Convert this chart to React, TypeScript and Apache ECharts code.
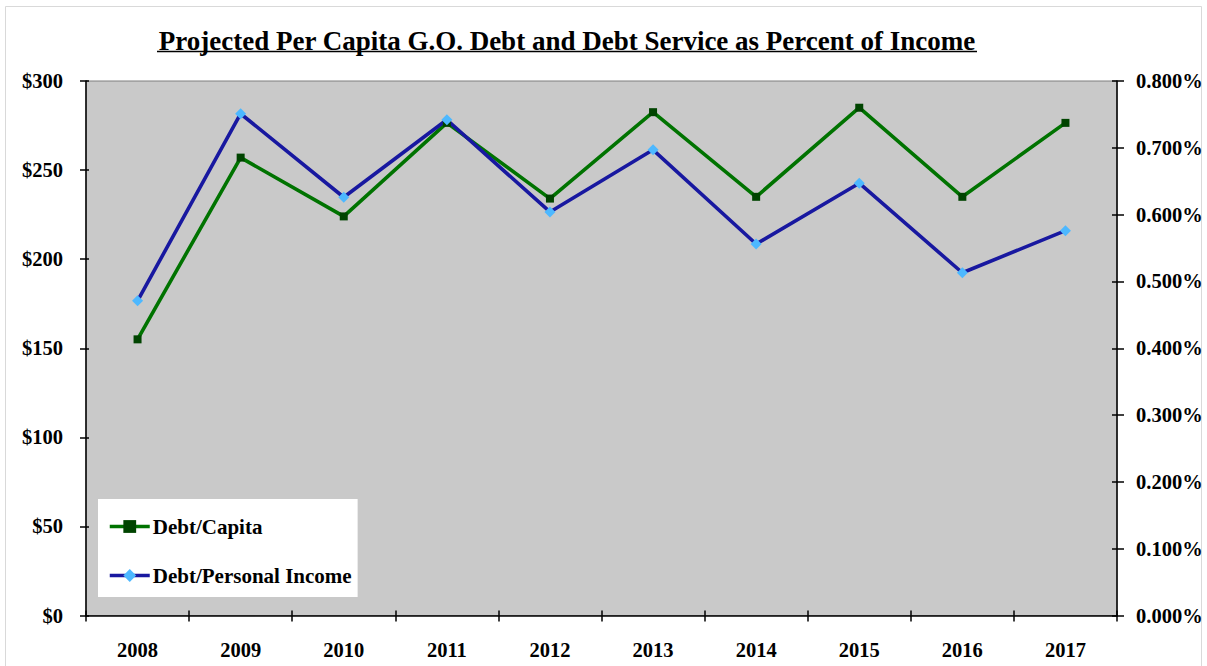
import React, { useEffect, useRef } from 'react';
import * as echarts from 'echarts';

const years = ['2008', '2009', '2010', '2011', '2012', '2013', '2014', '2015', '2016', '2017'];
const debtPerCapita = [155, 257, 224, 276.5, 234, 282.5, 235, 285, 235, 276.5];
const debtPctIncome = [0.471, 0.751, 0.626, 0.742, 0.604, 0.697, 0.556, 0.647, 0.513, 0.576];
const titleText = 'Projected Per Capita G.O. Debt and Debt Service as Percent of Income';
const seriesNames = ['Debt/Capita', 'Debt/Personal Income'];

const FONT = '"Liberation Serif", "Times New Roman", serif';

export default function App() {
  const ref = useRef<HTMLDivElement>(null);
  useEffect(() => {
    if (!ref.current) return;
    const chart = echarts.init(ref.current, null, { renderer: 'svg' });
    const labelStyle = { color: '#000', fontFamily: FONT, fontWeight: 'bold' as const, fontSize: 20.5 };
    const yTickInside = { show: true, inside: true, length: 3, lineStyle: { color: '#000', width: 1.5 } };
    chart.setOption({
      animation: false,
      backgroundColor: '#fff',
      graphic: [
        { type: 'rect', shape: { x: 5.5, y: 6.5, width: 1196, height: 700 }, style: { fill: 'none', stroke: '#d9d9d9', lineWidth: 1 }, z: -10 },
        { type: 'text', x: 567, y: 41, style: { text: titleText, fill: '#000', font: `bold 27px ${FONT}`, textAlign: 'center', textVerticalAlign: 'middle' } },
        { type: 'line', shape: { x1: 157, y1: 51.5, x2: 977, y2: 51.5 }, style: { stroke: '#000', lineWidth: 1.5 } },
      ],
      grid: {
        left: 86, right: 90, top: 81, bottom: 50.5,
        show: true, backgroundColor: '#C9C9C9', borderColor: '#7f7f7f', borderWidth: 1,
      },
      legend: {
        orient: 'vertical', left: 98, top: 499,
        backgroundColor: '#fff',
        padding: [17, 6, 11, 10],
        itemGap: 28, itemWidth: 40, itemHeight: 16,
        data: seriesNames,
        lineStyle: { width: 3.5 },
        textStyle: { ...labelStyle, fontSize: 21, padding: [0, 0, 0, -2] },
      },
      xAxis: [
        {
          type: 'category', data: years, position: 'bottom',
          axisLine: { show: true, lineStyle: { color: '#000', width: 1.5 } },
          axisTick: { show: true, length: 6, lineStyle: { color: '#000', width: 1.5 } },
          axisLabel: { ...labelStyle, margin: 24 },
          splitLine: { show: false },
        },
        {
          type: 'category', data: years, position: 'bottom',
          axisLine: { show: false },
          axisTick: { show: true, inside: true, length: 5, lineStyle: { color: '#000', width: 1.5 } },
          axisLabel: { show: false },
          splitLine: { show: false },
        },
      ],
      yAxis: [
        {
          type: 'value', min: 0, max: 300, interval: 50, position: 'left',
          axisLine: { show: true, lineStyle: { color: '#000', width: 1.5 } },
          axisTick: { show: true, length: 6, lineStyle: { color: '#000', width: 1.5 } },
          axisLabel: { ...labelStyle, margin: 23, formatter: (v: number) => '$' + v },
          splitLine: { show: false },
        },
        {
          type: 'value', min: 0, max: 0.8, interval: 0.1, position: 'right',
          axisLine: { show: true, lineStyle: { color: '#000', width: 1.5 } },
          axisTick: { show: true, length: 7, lineStyle: { color: '#000', width: 1.5 } },
          axisLabel: { ...labelStyle, margin: 19, formatter: (v: number) => v.toFixed(3) + '%' },
          splitLine: { show: false },
        },
        {
          type: 'value', min: 0, max: 300, interval: 50, position: 'left',
          axisLine: { show: false }, axisTick: yTickInside, axisLabel: { show: false }, splitLine: { show: false },
        },
        {
          type: 'value', min: 0, max: 0.8, interval: 0.1, position: 'right',
          axisLine: { show: false }, axisTick: { ...yTickInside, length: 5 }, axisLabel: { show: false }, splitLine: { show: false },
        },
      ],
      series: [
        {
          name: seriesNames[0], type: 'line', yAxisIndex: 0, data: debtPerCapita,
          symbol: 'rect', symbolSize: 8, showAllSymbol: true,
          lineStyle: { color: '#007300', width: 3.6 },
          itemStyle: { color: '#004400' },
        },
        {
          name: seriesNames[1], type: 'line', yAxisIndex: 1, data: debtPctIncome,
          symbol: 'diamond', symbolSize: 11, showAllSymbol: true,
          lineStyle: { color: '#1818A0', width: 3.6 },
          itemStyle: { color: '#4DB8FF' },
        },
      ],
    });
    return () => chart.dispose();
  }, []);
  return <div ref={ref} style={{ position: 'absolute', left: 0, top: 0, width: 1207, height: 666 }} />;
}
